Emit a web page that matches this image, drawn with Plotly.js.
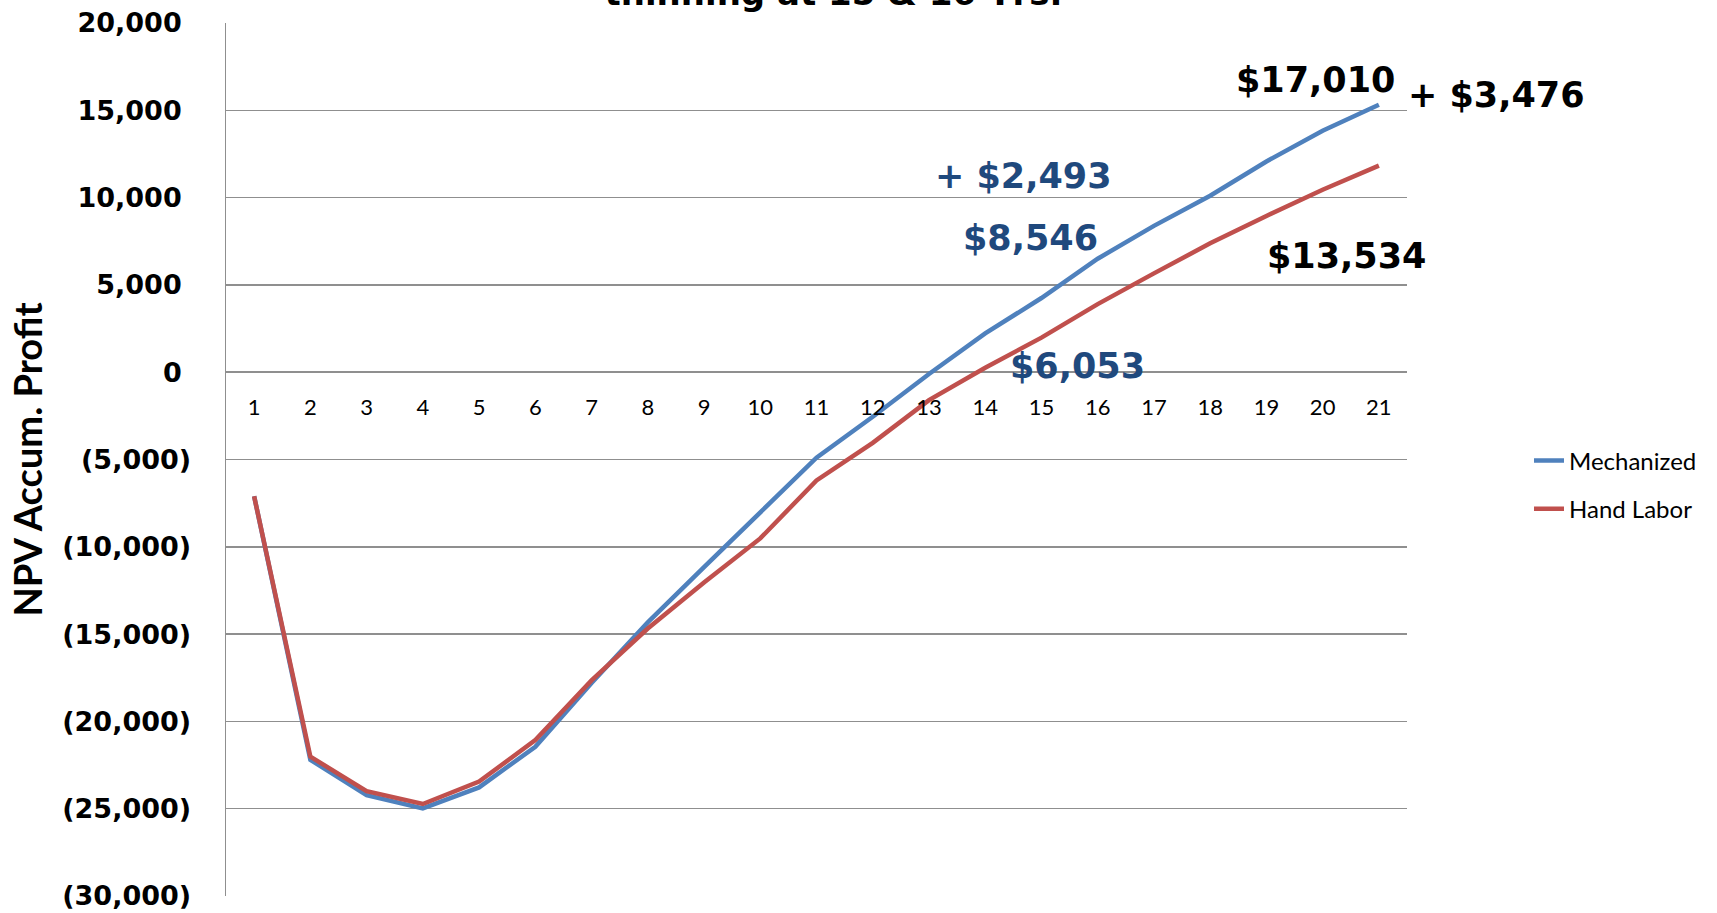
<!DOCTYPE html>
<html>
<head>
<meta charset="utf-8">
<script src="https://cdn.plot.ly/plotly-3.0.1.min.js"></script>
<style>
  html, body { margin: 0; padding: 0; background: #ffffff; }
  #chart { width: 1717px; height: 913px; }
</style>
</head>
<body>
<div id="chart"></div>
<script>
// ---- Data ----
const years = [1, 2, 3, 4, 5, 6, 7, 8, 9, 10, 11, 12, 13, 14, 15, 16, 17, 18, 19, 20, 21];
const yearLabels = years.map(String);
const mechanized = [-7100, -22200, -24220, -24980, -23780, -21450, -17800, -14330, -11160, -8000, -4900,
                    -2550, -100, 2220, 4250, 6500, 8380, 10110, 12070, 13830, 15320];
const handLabor  = [-7100, -22020, -23990, -24730, -23450, -21070, -17650, -14680, -12040, -9520, -6200,
                    -4050, -1600, 250, 1980, 3900, 5660, 7380, 8950, 10450, 11830];
const seriesNames = ['Mechanized', 'Hand Labor'];
const yTickVals = [20000, 15000, 10000, 5000, 0, -5000, -10000, -15000, -20000, -25000, -30000];
const yTickText = ['20,000\u00a0', '15,000\u00a0', '10,000\u00a0', '5,000\u00a0', '0\u00a0',
                   '(5,000)', '(10,000)', '(15,000)', '(20,000)', '(25,000)', '(30,000)'];
const titleText = 'thinning at 15 &amp; 16 Yrs.';
const yTitleText = 'NPV Accum. Profit';
const calloutTexts = ['$17,010', '+ $3,476', '+ $2,493', '$8,546', '$6,053', '$13,534'];

// ---- Styling ----
const yMin = -30000, yMax = 20000;
const blue = '#4F81BD', red = '#C0504D', navy = '#1F497D';
const gridColor = '#8f8f8f';
const bigFont = (color) => ({ family: 'DejaVu Sans', size: 35, color: color, weight: 'bold' });

const traces = [
  { x: years, y: mechanized, name: seriesNames[0], type: 'scatter', mode: 'lines',
    line: { color: blue, width: 4.5 }, legendgroup: 'a' },
  { x: years, y: handLabor, name: seriesNames[1], type: 'scatter', mode: 'lines',
    line: { color: red, width: 4.5 }, legendgroup: 'b' }
];

const calloutPos = [
  { x: 0.9221, y: 0.9347, c: '#000000' },
  { x: 1.0754, y: 0.9175, c: '#000000' },
  { x: 0.6750, y: 0.8247, c: navy },
  { x: 0.6808, y: 0.7537, c: navy },
  { x: 0.7214, y: 0.6071, c: navy },
  { x: 0.9490, y: 0.7331, c: '#000000' }
];
const annotations = calloutTexts.map((t, i) => ({
  text: t, xref: 'paper', yref: 'paper', x: calloutPos[i].x, y: calloutPos[i].y,
  xanchor: 'center', yanchor: 'middle', showarrow: false, font: bigFont(calloutPos[i].c)
}));

const layout = {
  width: 1717, height: 913,
  paper_bgcolor: '#ffffff', plot_bgcolor: '#ffffff',
  margin: { l: 226, r: 310, t: 23, b: 17, pad: 0, autoexpand: false },
  title: {
    text: titleText, x: 0.4854, xanchor: 'center', xref: 'container',
    y: 1 - 5 / 913, yanchor: 'bottom', yref: 'container',
    font: { family: 'DejaVu Sans', size: 34, color: '#000000', weight: 'bold' }
  },
  xaxis: {
    range: [0.5, 21.5], tickmode: 'array', tickvals: years, ticktext: yearLabels,
    showgrid: false, zeroline: false, showline: false, ticks: '',
    anchor: 'free', position: (0 - yMin) / (yMax - yMin),
    ticklabelstandoff: 20,
    tickfont: { family: 'Lato', size: 22, color: '#000000' },
    fixedrange: true
  },
  yaxis: {
    range: [yMin, yMax], tickmode: 'array', tickvals: yTickVals, ticktext: yTickText,
    showgrid: true, gridcolor: gridColor, gridwidth: 1.5,
    zeroline: false, showline: true, linecolor: gridColor, linewidth: 1.5,
    ticks: '', ticklabelstandoff: 28,
    tickfont: { family: 'DejaVu Sans', size: 27, color: '#000000', weight: 'bold' },
    title: { text: yTitleText, standoff: 8,
             font: { family: 'Lato', size: 38, color: '#000000', weight: 'bold' } },
    automargin: false, fixedrange: true
  },
  showlegend: true,
  legend: {
    x: 1.1033, xanchor: 'left', xref: 'paper',
    y: 0.4708, yanchor: 'middle', yref: 'paper',
    traceorder: 'grouped', tracegroupgap: 14,
    font: { family: 'Lato', size: 24, color: '#000000' },
    bgcolor: 'rgba(0,0,0,0)', borderwidth: 0
  },
  annotations: annotations
};

Plotly.newPlot('chart', traces, layout, { displayModeBar: false, staticPlot: true });
</script>
</body>
</html>
